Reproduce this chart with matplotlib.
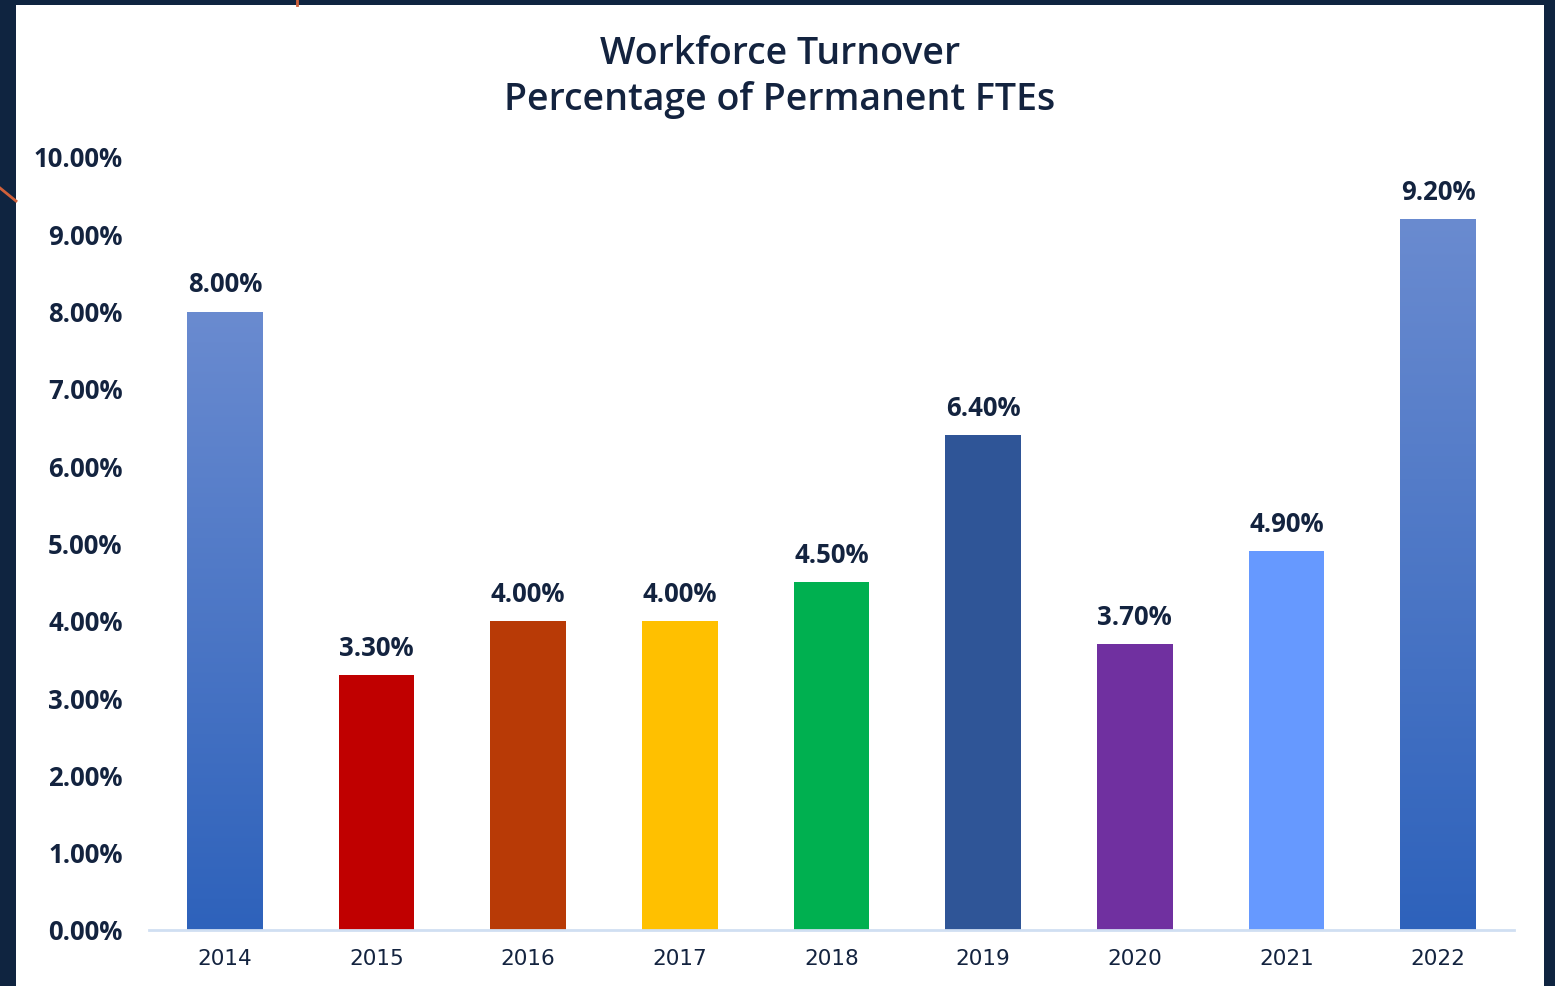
import numpy as np
import matplotlib.pyplot as plt
from matplotlib.lines import Line2D
from matplotlib.patches import Rectangle
from matplotlib.colors import LinearSegmentedColormap

years = ["2014", "2015", "2016", "2017", "2018", "2019", "2020", "2021", "2022"]
turnover = [8.0, 3.3, 4.0, 4.0, 4.5, 6.4, 3.7, 4.9, 9.2]
colors = ["gradient", "#c00000", "#b83a06", "#ffc000", "#00b050",
          "#2f5597", "#7030a0", "#6699ff", "gradient"]

navy = "#13233f"
plt.rcParams['font.family'] = ['Open Sans', 'DejaVu Sans']

fig = plt.figure(figsize=(15.55, 9.86), dpi=100)
fig.patch.set_facecolor("#0f2440")

# white panel
fig.add_artist(Rectangle((16 / 1555, 0), (1544 - 16) / 1555, 1 - 5 / 986,
                         transform=fig.transFigure, facecolor="white",
                         edgecolor="none", zorder=0))
# orange decorations in the margin
fig.add_artist(Line2D([297 / 1555, 297 / 1555], [1, 1 - 5 / 986],
                      transform=fig.transFigure, color="#d0603a", lw=2))
fig.add_artist(Line2D([0, 16 / 1555], [1 - 188 / 986, 1 - 201 / 986],
                      transform=fig.transFigure, color="#d0603a", lw=2))

ax = fig.add_axes([149 / 1555, 56 / 986, (1514 - 149) / 1555, (930 - 157) / 986])
ax.set_facecolor("none")

x = np.arange(len(years))
bars = ax.bar(x, turnover, width=0.5, color=[c if c != "gradient" else "none" for c in colors],
              zorder=2)

# gradient fill for the first and last bars
grad = np.linspace(0, 1, 256).reshape(-1, 1)
cmap = LinearSegmentedColormap.from_list("blu", ["#2e62bb", "#6a8bd0"])
for b, c in zip(bars, colors):
    if c == "gradient":
        x0, w, h = b.get_x(), b.get_width(), b.get_height()
        im = ax.imshow(grad, cmap=cmap, origin="lower", aspect="auto",
                       extent=[x0, x0 + w, 0, h], zorder=2)
        im.set_clip_path(b)

for xi, v in zip(x, turnover):
    ax.text(xi, v + 0.17, f"{v:.2f}%", ha="center", va="bottom",
            fontsize=18.5, fontweight="bold", color=navy)

ax.set_xlim(-0.5, 8.5)
ax.set_ylim(0, 10)
ax.set_yticks(np.arange(0, 11, 1))
ax.set_yticklabels([f"{t:.2f}%" for t in range(11)])
ax.set_xticks(x)
ax.set_xticklabels(years, family="DejaVu Sans")
ax.tick_params(axis="y", length=0, pad=19, labelsize=18.5, labelcolor=navy)
ax.tick_params(axis="x", length=0, pad=14, labelsize=15.5, labelcolor=navy)
for lab in ax.get_yticklabels():
    lab.set_fontweight("bold")
for s in ["top", "right", "left"]:
    ax.spines[s].set_visible(False)
ax.spines["bottom"].set_color("#d0dff2")
ax.spines["bottom"].set_linewidth(2)

fig.text(780 / 1555, 1 - 77 / 986, "Workforce Turnover\nPercentage of Permanent FTEs",
         ha="center", va="center", fontsize=27, fontweight="semibold",
         color=navy, linespacing=1.3)

fig.savefig("out.png", dpi=100, facecolor=fig.get_facecolor())
